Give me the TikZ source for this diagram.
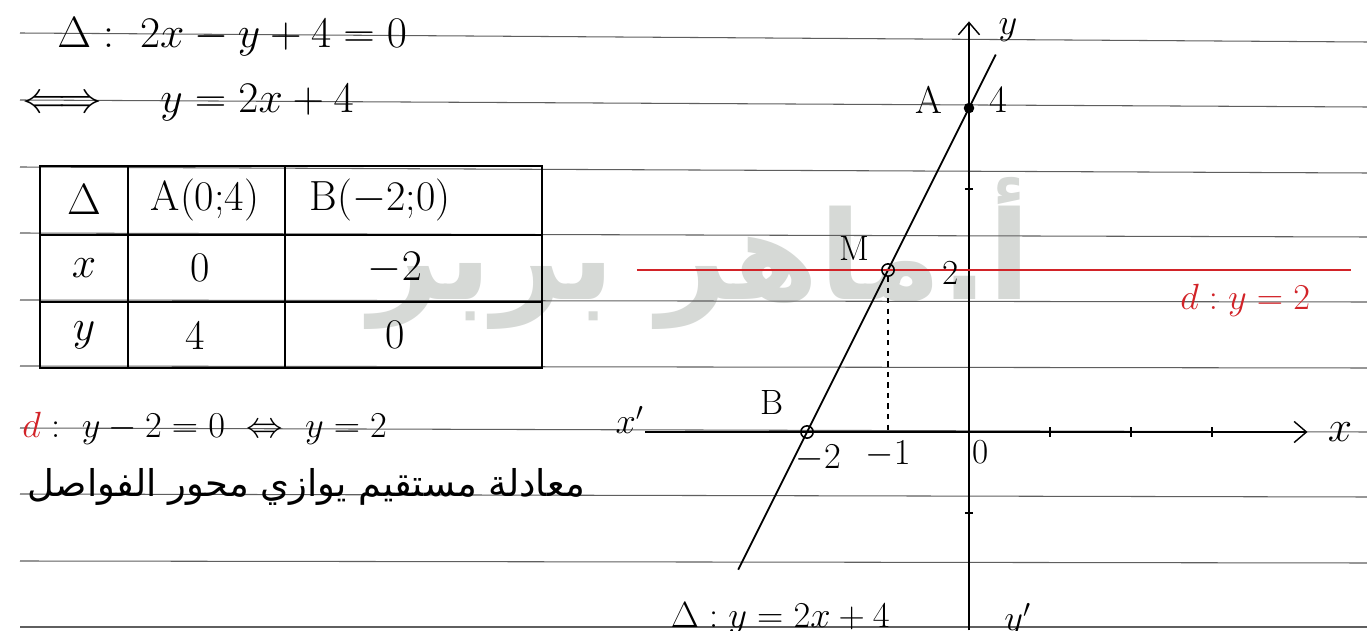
\documentclass[tikz,border=0pt]{standalone}
\usepackage{fontspec}
\usepackage{amsmath}
\newfontfamily\arabicfont[Script=Arabic]{DejaVu Sans}
\TeXXeTstate=1
\usetikzlibrary{arrows.meta}
\definecolor{pen}{RGB}{210,35,40}
\definecolor{ruling}{RGB}{95,95,95}
\definecolor{wmgray}{RGB}{214,217,214}
\tikzset{
  ruleline/.style={draw=ruling, line width=0.6pt},
  hw/.style={inner sep=0pt, font=\fontsize{26}{30}\selectfont},
  hwsmall/.style={inner sep=0pt, font=\fontsize{22}{26}\selectfont},
  cell/.style={inner sep=0pt, font=\fontsize{24}{28}\selectfont},
  lbl/.style={inner sep=0pt, font=\fontsize{20}{24}\selectfont},
  tbl/.style={draw=black, line width=1.1pt},
  axisline/.style={draw=black, line width=0.8pt},
  arrowaxis/.style={axisline, -{Straight Barb[length=7pt, width=12pt]}},
  deltaline/.style={draw=black, line width=1pt},
  redline/.style={draw=pen, line width=1.3pt},
  dashguide/.style={draw=black, line width=0.8pt, dashed},
  ptmark/.style={circle, draw=black, line width=0.9pt, inner sep=0pt, minimum size=7pt},
  ptfill/.style={circle, fill=black, inner sep=0pt, minimum size=6pt},
}
\begin{document}
\begin{tikzpicture}[x=0.02cm, y=-0.02cm]
\useasboundingbox (0,0) rectangle (1367,631);
\fill[white] (0,0) rectangle (1367,631);

% watermark
\node[inner sep=0pt, font=\arabicfont\bfseries\fontsize{70}{80}\selectfont, text=wmgray, anchor=base] (wm) at (700,300) {\beginR أ.ماهر بربر\endR};

% notebook ruling
\foreach \l/\r in {33/42, 100/107, 167/173, 233/237, 300/302, 366/368, 428/432, 494/497, 561/563, 627/627}
  \draw[ruleline] (20,\l) -- (1367,\r);

% equations at left
\node[hw, anchor=west] (eqone) at (57,37) {$\Delta:\ 2x - y + 4 = 0$};
\node[hw, anchor=west] (eqtwo) at (22,103) {$\Longleftrightarrow\quad y = 2x + 4$};

% table
\draw[tbl] (40,166) rectangle (542,368);
\draw[tbl] (128,166) -- (128,368);
\draw[tbl] (285,166) -- (285,368);
\draw[tbl] (40,235) -- (542,235);
\draw[tbl] (40,302) -- (542,302);
\node[cell] (c11) at (84,200) {$\Delta$};
\node[cell] (c12) at (205,200) {A(0;4)};
\node[cell] (c13) at (380,200) {B($-$2;0)};
\node[cell] (c21) at (84,268) {$x$};
\node[cell] (c22) at (200,268) {0};
\node[cell] (c23) at (395,268) {$-2$};
\node[cell] (c31) at (84,335) {$y$};
\node[cell] (c32) at (195,335) {4};
\node[cell] (c33) at (395,335) {0};

% d equation and Arabic remark
\node[hwsmall, anchor=west] (eqd) at (22,428) {$\textcolor{pen}{d}:\ y - 2 = 0 \ \Leftrightarrow\ y = 2$};
\node[inner sep=0pt, anchor=east, font=\arabicfont\fontsize{21}{25}\selectfont] (note) at (585,487) {\beginR معادلة مستقيم يوازي محور الفواصل\endR};

% graph
\begin{scope}[shift={(969,432)}, x=1.62cm, y=1.62cm]
  \coordinate (O) at (0,0);
  \coordinate (ytop) at (0,5.07);
  \coordinate (ybot) at (0,-2.45);
  \coordinate (xleft) at (-4.0,0);
  \coordinate (xright) at (4.18,0);
  \draw[arrowaxis] (ybot) -- (ytop);
  \draw[arrowaxis] (xleft) -- (xright);
  \foreach \t in {1,2,3} \draw[axisline] (\t,-0.06) -- (\t,0.06);
  \foreach \t in {3,-1} \draw[axisline] (-0.05,\t) -- (0.05,\t);

  \coordinate (D1) at (-2.85,-1.7);
  \coordinate (D2) at (0.33,4.66);
  \draw[deltaline] (D1) -- (D2);

  \coordinate (R1) at (-4.1,2);
  \coordinate (R2) at (4.72,2);
  \draw[redline] (R1) -- (R2);

  \node[ptmark] (M) at (-1,2) {};
  \node[ptmark] (B) at (-2,0) {};
  \node[ptfill] (A) at (0,4) {};
  \coordinate (Mx) at (-1,0);
  \draw[dashguide] (M) -- (Mx);

  \node[hwsmall] (ylab) at (0.48,4.96) {$y$};
  \node[hwsmall] (Alab) at (-0.5,4.1) {A};
  \node[hwsmall] (fourlab) at (0.36,4.1) {4};
  \node[lbl] (Mlab) at (-1.42,2.26) {M};
  \node[lbl] (twolab) at (-0.23,1.96) {2};
  \node[hwsmall, text=pen] (dlab) at (3.41,1.63) {$d: y = 2$};
  \node[hw] (xlab) at (4.58,0) {$x$};
  \node[hwsmall] (xplab) at (-4.19,0.15) {$x'$};
  \node[lbl] (Blab) at (-2.43,0.36) {B};
  \node[lbl] (m2lab) at (-1.86,-0.32) {$-2$};
  \node[lbl] (m1lab) at (-1.0,-0.28) {$-1$};
  \node[lbl] (zerolab) at (0.14,-0.25) {0};
  \node[hwsmall] (yplab) at (0.6,-2.33) {$y'$};
  \node[hwsmall] (deltalab) at (-2.33,-2.3) {$\Delta: y = 2x + 4$};
\end{scope}
\end{tikzpicture}
\end{document}
